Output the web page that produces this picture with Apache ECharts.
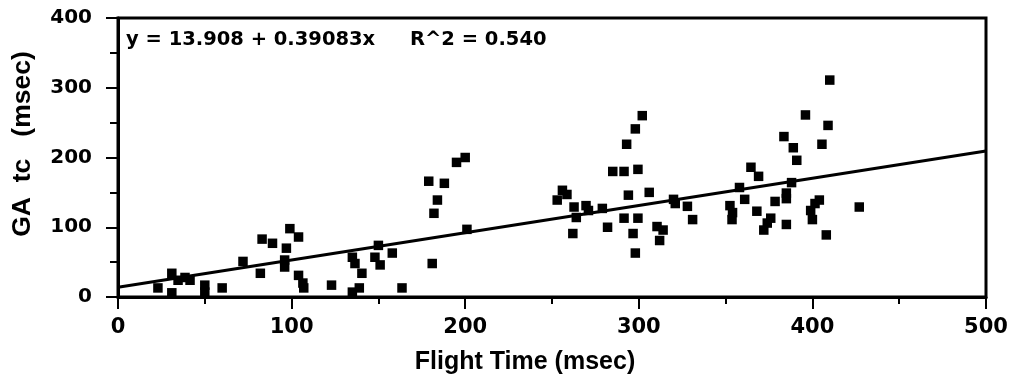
<!DOCTYPE html>
<html>
<head>
<meta charset="utf-8">
<script src="https://cdn.jsdelivr.net/npm/echarts@6/dist/echarts.min.js"></script>
<style>html,body{margin:0;padding:0;background:#fff;}#c{width:1015px;height:385px;}</style>
</head>
<body>
<div id="c"></div>
<script>
// Flight Time (msec)
var flightTime = [
  23, 31, 31, 34.6, 38.6, 41.5, 50, 50, 60, 72,
  82, 83, 89, 97, 99, 104, 96, 96, 104, 106.5, 107,
  123, 135, 139, 135, 136.5, 140.5, 148, 151, 150, 158, 163.6,
  181, 182, 184, 179, 188, 195, 200, 201,
  253, 256, 258.6, 262.7, 264, 269.6, 271, 262, 279, 282,
  285, 291.5, 291.5, 294, 293, 298, 302, 299.5, 299.5, 296.7, 298,
  306, 310.5, 314, 312, 320, 321, 328, 331,
  352.5, 354, 353.7, 358, 361, 368, 364.6, 369, 372, 374, 376, 378.5,
  385, 385, 388, 385, 383.6, 389, 391, 396, 399, 400, 401.5, 404,
  405.5, 409, 410, 408, 427
];
// GA tc (msec)
var gaTc = [
  13, 6, 34, 24, 28, 24, 17, 7, 13, 51,
  34, 83, 77, 70, 98, 86, 53, 43, 31, 20, 13,
  17, 7, 13, 57, 48, 34, 57, 46, 74, 63, 13,
  48, 120, 139, 166, 163, 193, 200, 97,
  139, 153, 147, 129, 114, 131, 124, 91, 127, 100,
  180, 180, 113, 146, 219, 241, 260, 183, 113, 91, 63,
  150, 101, 96, 81, 140, 134, 130, 111,
  131, 121, 111, 157, 140, 123, 186, 173, 96, 106, 113, 137,
  149, 141, 164, 104, 230, 214, 196, 261, 124, 111, 134, 139,
  219, 246, 311, 89, 129
];
// regression line end points (y = 13.908 + 0.39083x)
var fitX = [0, 500];
var fitY = [13.908, 209.32];
var xTicks = [0, 100, 200, 300, 400, 500];
var yTicks = [0, 100, 200, 300, 400];
var equationText = 'y = 13.908 + 0.39083x';
var r2Text = 'R^2 = 0.540';
var xTitle = 'Flight Time (msec)';
var yTitle = 'GA  tc   (msec)';

var points = flightTime.map(function (x, i) { return [x, gaTc[i]]; });
var fitLine = fitX.map(function (x, i) { return [x, fitY[i]]; });

var numFont = 'DejaVu Sans';
var chart = echarts.init(document.getElementById('c'), null, {renderer: 'canvas'});
chart.setOption({
  animation: false,
  backgroundColor: '#fff',
  grid: {left: 118, right: 29, top: 18, bottom: 88, show: true, borderColor: '#000', borderWidth: 3, backgroundColor: 'transparent'},
  graphic: [
    {type: 'text', x: 126, y: 40, z: 10,
     style: {text: equationText, font: 'bold 19.5px "DejaVu Sans"', fill: '#000', verticalAlign: 'middle'}},
    {type: 'text', x: 410, y: 40, z: 10,
     style: {text: r2Text, font: 'bold 19.5px "DejaVu Sans"', fill: '#000', verticalAlign: 'middle'}},
    {type: 'text', x: 525, y: 362, z: 10,
     style: {text: xTitle, font: 'bold 25px "Liberation Sans"', fill: '#000', align: 'center', verticalAlign: 'middle'}},
    {type: 'text', x: 23, y: 144, rotation: Math.PI / 2, z: 10,
     style: {text: yTitle, font: 'bold 26.5px "Liberation Sans"', fill: '#000', align: 'center', verticalAlign: 'middle'}}
  ],
  xAxis: {
    type: 'value', min: xTicks[0], max: xTicks[xTicks.length - 1], interval: 100,
    axisLine: {onZero: false, lineStyle: {color: '#000', width: 3}},
    axisTick: {inside: false, length: 12, lineStyle: {color: '#000', width: 2}},
    minorTick: {show: true, splitNumber: 2, length: 7, lineStyle: {color: '#000', width: 2}},
    splitLine: {show: false},
    axisLabel: {margin: 20, fontFamily: numFont, fontWeight: 'bold', fontSize: 21, color: '#000'}
  },
  yAxis: {
    type: 'value', min: yTicks[0], max: yTicks[yTicks.length - 1], interval: 100,
    axisLine: {onZero: false, lineStyle: {color: '#000', width: 3}},
    axisTick: {inside: false, length: 12, lineStyle: {color: '#000', width: 2}},
    minorTick: {show: true, splitNumber: 2, length: 8, lineStyle: {color: '#000', width: 2}},
    splitLine: {show: false},
    axisLabel: {margin: 26, fontFamily: numFont, fontWeight: 'bold', fontSize: 20, color: '#000'}
  },
  series: [
    {
      type: 'scatter', data: points, symbol: 'rect', symbolSize: 9.5,
      itemStyle: {color: '#000', opacity: 1}
    },
    {
      type: 'line', data: fitLine, symbol: 'none',
      lineStyle: {color: '#000', width: 3, opacity: 1}
    }
  ]
});
</script>
</body>
</html>
